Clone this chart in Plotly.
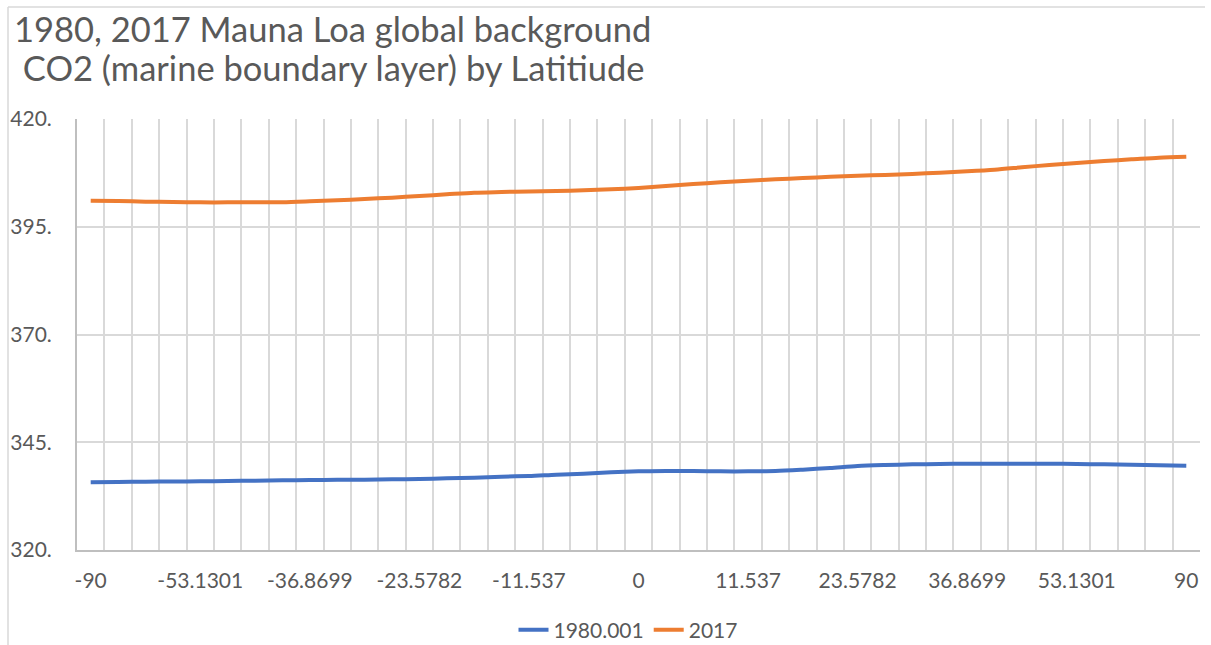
import plotly.graph_objects as go

# Latitude bins (equal steps in sine of latitude), as category labels
latitudes = [
    "-90", "-71.8051", "-64.1581", "-58.2117", "-53.1301", "-48.5904", "-44.427",
    "-40.5416", "-36.8699", "-33.367", "-30", "-26.7437", "-23.5782", "-20.4873",
    "-17.4576", "-14.4775", "-11.537", "-8.6269", "-5.7392", "-2.8660", "0",
    "2.8660", "5.7392", "8.6269", "11.537", "14.4775", "17.4576", "20.4873",
    "23.5782", "26.7437", "30", "33.367", "36.8699", "40.5416", "44.427",
    "48.5904", "53.1301", "58.2117", "64.1581", "71.8051", "90",
]

# Labels printed under the axis
shown_labels = [
    "-90", "-53.1301", "-36.8699", "-23.5782", "-11.537", "0",
    "11.537", "23.5782", "36.8699", "53.1301", "90",
]

co2_1980 = [
    335.70, 335.78, 335.85, 335.88, 335.93, 336.00, 336.09, 336.16, 336.24, 336.28,
    336.32, 336.40, 336.47, 336.63, 336.78, 337.01, 337.17, 337.48, 337.71, 338.02,
    338.25, 338.33, 338.33, 338.25, 338.25, 338.33, 338.64, 339.03, 339.49, 339.72,
    339.88, 339.95, 340.03, 340.03, 340.03, 340.03, 339.95, 339.88, 339.80, 339.64,
    339.57,
]

co2_2017 = [
    401.04, 400.97, 400.82, 400.74, 400.66, 400.66, 400.66, 400.70, 400.90, 401.13,
    401.44, 401.75, 402.13, 402.52, 402.90, 403.06, 403.20, 403.29, 403.45, 403.68,
    404.00, 404.45, 404.90, 405.30, 405.70, 406.00, 406.30, 406.60, 406.85, 407.00,
    407.24, 407.55, 407.86, 408.24, 408.79, 409.33, 409.79, 410.26, 410.64, 411.03,
    411.26,
]

y_ticks = [320, 345, 370, 395, 420]
y_tick_text = ["320.", "345.", "370.", "395.", "420."]

title_lines = [
    "1980, 2017 Mauna Loa global background",
    " CO2 (marine boundary layer) by Latitiude",
]

TEXT = "#595959"
GRID = "#d9d9d9"
AXIS = "#bfbfbf"
FONT = "Lato, 'Open Sans', sans-serif"

W, H = 1211, 645
L, R, T, B = 77, 11, 119, 95
PW, PH = W - L - R, H - T - B


def px_x(px):
    return (px - L) / PW


def px_y(py):
    return (H - B - py) / PH


tick_text = [lab if lab in shown_labels else "" for lab in latitudes]

fig = go.Figure()
fig.add_trace(go.Scatter(
    x=latitudes, y=co2_1980, name="1980.001", mode="lines",
    line=dict(color="#4472C4", width=4, shape="spline", smoothing=0.8),
))
fig.add_trace(go.Scatter(
    x=latitudes, y=co2_2017, name="2017", mode="lines",
    line=dict(color="#ED7D31", width=4, shape="spline", smoothing=0.8),
))

fig.update_layout(
    width=W, height=H,
    margin=dict(l=L, r=R, t=T, b=B, autoexpand=False),
    paper_bgcolor="white", plot_bgcolor="white",
    font=dict(family=FONT, color=TEXT),
    showlegend=True,
    legend=dict(
        orientation="h", xref="container", x=628 / W, xanchor="center",
        yref="container", y=(H - 630) / H, yanchor="middle",
        font=dict(family=FONT, size=21, color=TEXT),
        bgcolor="rgba(0,0,0,0)",
    ),
    xaxis=dict(
        type="category", categoryorder="array", categoryarray=latitudes,
        range=[-0.5, len(latitudes) - 0.5],
        tickmode="array", tickvals=latitudes, ticktext=tick_text,
        tickson="boundaries", ticks="", tickangle=0, automargin=False,
        showgrid=True, gridcolor=GRID, gridwidth=2,
        showline=True, linecolor=AXIS, linewidth=2,
        tickfont=dict(family=FONT, size=21, color=TEXT),
        ticklabelstandoff=11,
        fixedrange=True,
    ),
    yaxis=dict(
        range=[320, 420], tickmode="array", tickvals=y_ticks, ticktext=y_tick_text,
        ticks="", automargin=False,
        showgrid=True, gridcolor=GRID, gridwidth=2,
        showline=True, linecolor=AXIS, linewidth=2,
        zeroline=False,
        tickfont=dict(family=FONT, size=21, color=TEXT),
        ticklabelstandoff=19,
        fixedrange=True,
    ),
)

# Chart title, two left-aligned lines
for text, cy in zip(title_lines, [28, 68]):
    fig.add_annotation(
        text=text, xref="paper", yref="paper",
        x=px_x(12), y=px_y(cy), xanchor="left", yanchor="middle",
        showarrow=False, align="left",
        font=dict(family=FONT, size=34.5, color=TEXT),
    )

# Light outer frame of the chart area
fig.add_shape(type="line", xref="paper", yref="paper",
              x0=px_x(8), x1=px_x(8), y0=px_y(7), y1=px_y(660),
              line=dict(color=GRID, width=1.5))
fig.add_shape(type="line", xref="paper", yref="paper",
              x0=px_x(8), x1=px_x(1205), y0=px_y(7), y1=px_y(7),
              line=dict(color=GRID, width=1.5))

fig.write_html("out.html")
